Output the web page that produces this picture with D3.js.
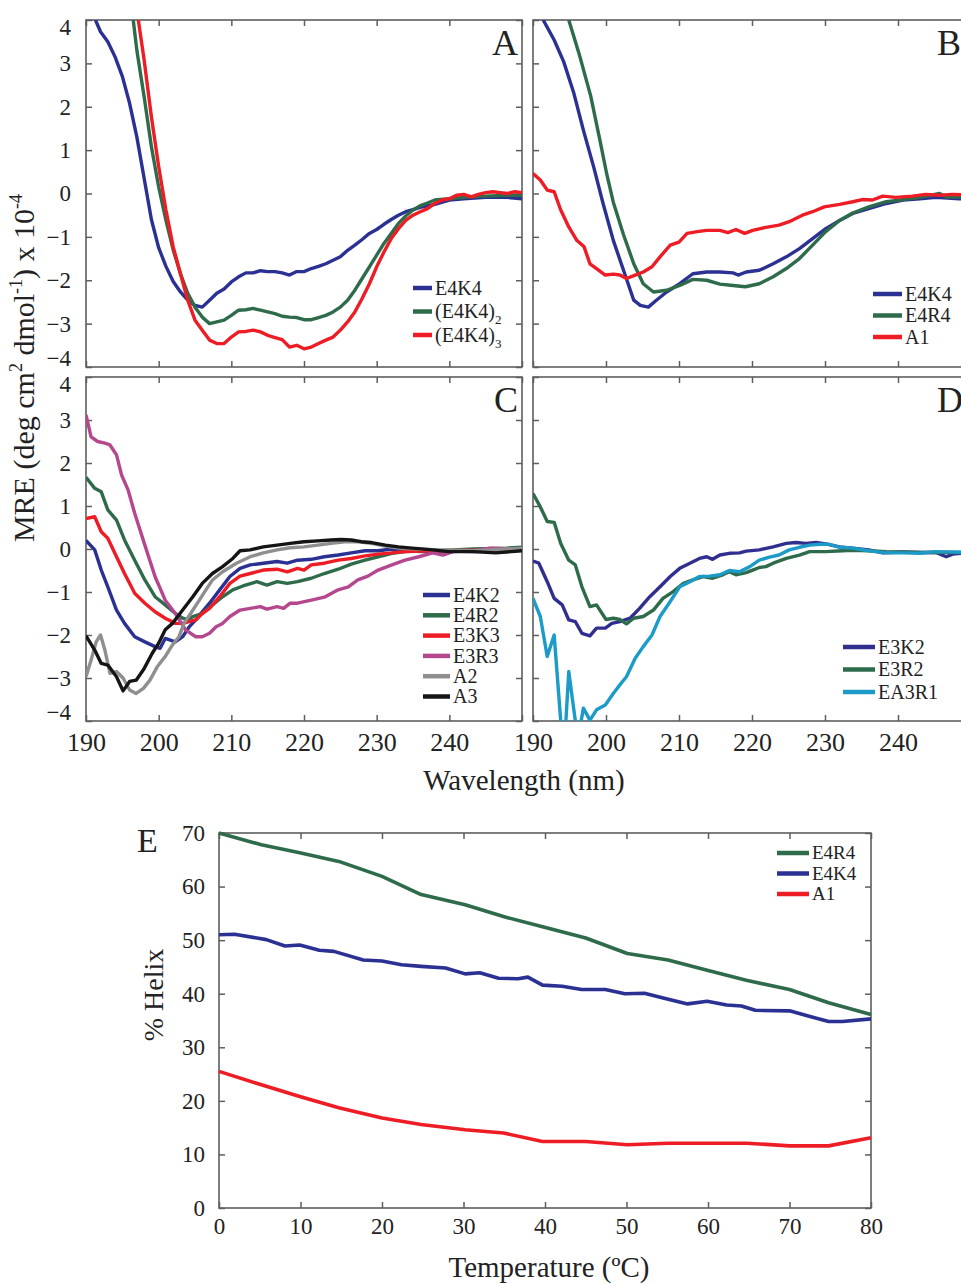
<!DOCTYPE html>
<html>
<head>
<meta charset="utf-8">
<script src="https://cdn.jsdelivr.net/npm/d3@7"></script>
<style>
  body { margin: 0; background: #fff; }
  svg { display: block; }
</style>
</head>
<body>
<div id="chart"></div>
<script>
// ---- tick values
const nmTicks = [190, 200, 210, 220, 230, 240, 250];
const mreTicks = [-4, -3, -2, -1, 0, 1, 2, 3, 4];
const tempTicks = [0, 10, 20, 30, 40, 50, 60, 70, 80];
const helixTicks = [0, 10, 20, 30, 40, 50, 60, 70];

// ---- panel A  [wavelength nm, MRE x 10^-4]
const aE4K4 = [[191.3,4.0],[192,3.73],[193,3.5],[194,3.15],[195,2.7],[196,2.08],[197,1.3],[198,0.35],[199,-0.6],[200,-1.25],[201,-1.68],[202,-2.03],[203,-2.27],[204,-2.46],[205,-2.58],[206,-2.62],[207,-2.46],[208,-2.3],[209,-2.2],[210,-2.04],[211,-1.92],[212,-1.83],[213,-1.83],[214,-1.78],[215,-1.8],[216,-1.8],[217,-1.83],[218,-1.88],[219,-1.8],[220,-1.8],[221,-1.73],[222,-1.68],[223,-1.62],[224,-1.54],[225,-1.46],[226,-1.31],[227,-1.19],[228,-1.06],[229,-0.92],[230,-0.83],[231,-0.71],[232,-0.6],[233,-0.5],[234,-0.42],[235,-0.37],[236,-0.32],[238,-0.25],[240,-0.15],[242,-0.12],[245,-0.09],[248,-0.09],[250,-0.12]];
const aE4K4x2 = [[196.5,4.0],[197,3.3],[198,2.23],[199,1.08],[200,0.15],[201,-0.62],[202,-1.3],[203,-1.85],[204,-2.3],[205,-2.62],[206,-2.85],[207,-3.0],[208,-2.96],[209,-2.92],[210,-2.81],[211,-2.69],[212,-2.68],[213,-2.65],[214,-2.69],[215,-2.73],[216,-2.77],[217,-2.83],[218,-2.85],[219,-2.86],[220,-2.91],[221,-2.91],[222,-2.86],[223,-2.81],[224,-2.73],[225,-2.62],[226,-2.46],[227,-2.23],[228,-1.96],[229,-1.69],[230,-1.42],[231,-1.15],[232,-0.92],[233,-0.69],[234,-0.52],[235,-0.38],[236,-0.28],[237,-0.22],[238,-0.15],[240,-0.12],[242,-0.09],[245,-0.06],[248,-0.04],[250,-0.04]];
const aE4K4x3 = [[197.2,4.0],[198,3.08],[199,1.77],[200,0.62],[201,-0.38],[202,-1.23],[203,-1.85],[204,-2.46],[205,-2.92],[206,-3.15],[207,-3.38],[208,-3.46],[209,-3.46],[210,-3.31],[211,-3.19],[212,-3.18],[213,-3.15],[214,-3.19],[215,-3.27],[216,-3.32],[217,-3.37],[218,-3.54],[219,-3.5],[220,-3.58],[221,-3.54],[222,-3.46],[223,-3.38],[224,-3.31],[225,-3.15],[226,-2.96],[227,-2.73],[228,-2.42],[229,-2.08],[230,-1.69],[231,-1.35],[232,-1.04],[233,-0.81],[234,-0.62],[235,-0.5],[236,-0.42],[237,-0.35],[238,-0.23],[239,-0.15],[240,-0.12],[241,-0.04],[242,-0.02],[243,-0.08],[244,-0.02],[245,0.02],[246,0.04],[247,0.02],[248,0],[249,0.04],[250,0.02]];

// ---- panel B
const bE4K4 = [[191.4,4.0],[192.9,3.54],[194.2,3.04],[195.6,2.31],[196.9,1.46],[198.3,0.62],[199.6,-0.23],[201,-1.08],[202.4,-1.77],[203.8,-2.46],[204.7,-2.58],[205.8,-2.62],[206.9,-2.46],[208.3,-2.27],[210.1,-2.08],[211.9,-1.85],[213.8,-1.81],[215.6,-1.81],[217.4,-1.83],[218.1,-1.88],[219.2,-1.81],[221,-1.77],[222.9,-1.62],[224.7,-1.46],[226.5,-1.27],[228.3,-1.04],[230.1,-0.81],[232,-0.62],[233.8,-0.46],[236,-0.35],[238.4,-0.23],[240.7,-0.15],[243,-0.12],[245.2,-0.09],[248.4,-0.12],[250,-0.12]];
const bE4R4 = [[194.9,4.0],[196.3,3.23],[197.9,2.25],[199.2,1.2],[200.1,0.45],[201,-0.2],[202.4,-0.95],[203.8,-1.62],[205.1,-2.08],[206.5,-2.27],[208.3,-2.23],[210.1,-2.12],[211.9,-1.98],[213.8,-2.0],[215.6,-2.09],[217.4,-2.12],[219.1,-2.15],[221,-2.08],[222.9,-1.92],[224.7,-1.73],[226.5,-1.5],[228.3,-1.19],[230.1,-0.88],[232,-0.62],[233.8,-0.45],[236,-0.31],[238.4,-0.19],[240.7,-0.14],[243,-0.09],[245.7,0],[246.6,-0.08],[250,-0.08]];
const bA1 = [[190,0.46],[191,0.31],[191.95,0.08],[192.9,0.04],[193.8,-0.38],[194.9,-0.77],[196,-1.08],[197,-1.23],[197.8,-1.62],[198.7,-1.73],[199.9,-1.88],[201,-1.86],[201.9,-1.88],[202.8,-1.96],[204,-1.88],[205.1,-1.81],[206.3,-1.69],[207.4,-1.46],[208.8,-1.19],[210,-1.12],[211.1,-0.92],[212.5,-0.88],[213.8,-0.85],[215.6,-0.85],[216.7,-0.9],[217.8,-0.83],[219,-0.92],[220.1,-0.85],[221.9,-0.78],[223.7,-0.73],[225.1,-0.65],[226.9,-0.5],[228.3,-0.42],[229.9,-0.31],[232,-0.25],[233.8,-0.19],[235.1,-0.14],[236.5,-0.15],[237.9,-0.06],[239.7,-0.09],[242,-0.06],[243.8,-0.02],[245.7,-0.04],[247.5,-0.02],[250,-0.04]];

// ---- panel C
const cE4K2 = [[190,0.2],[191.2,-0.02],[192.1,-0.49],[193,-0.88],[194.2,-1.42],[195.3,-1.73],[196.7,-2.04],[198.1,-2.16],[199.5,-2.27],[200.2,-2.31],[200.9,-2.08],[201.6,-2.12],[202.3,-2.16],[203.3,-2.04],[204.2,-1.81],[205.1,-1.65],[206,-1.46],[207,-1.26],[208.4,-0.95],[209.8,-0.64],[211.2,-0.45],[212.6,-0.37],[214.4,-0.33],[216.3,-0.29],[217.7,-0.33],[219.1,-0.26],[221,-0.24],[222.8,-0.18],[224.7,-0.14],[226.5,-0.09],[228.4,-0.04],[230.2,-0.04],[232.1,0],[233.9,-0.04],[236.3,-0.06],[238.6,-0.04],[243.3,-0.06],[247.9,-0.04],[250,-0.02]];
const cE4R2 = [[190,1.67],[191.2,1.41],[192.1,1.33],[193,0.91],[194.2,0.67],[195.3,0.21],[196.7,-0.26],[198.1,-0.72],[199.5,-1.11],[200.9,-1.3],[202.3,-1.5],[203.3,-1.61],[204,-1.65],[204.7,-1.57],[206,-1.5],[207.4,-1.3],[208.8,-1.11],[210.2,-0.95],[211.6,-0.86],[213.5,-0.76],[214.9,-0.84],[216.3,-0.76],[217.7,-0.8],[219.1,-0.76],[221,-0.68],[222.8,-0.57],[224.7,-0.47],[226.5,-0.35],[228.4,-0.26],[230.2,-0.18],[232.1,-0.1],[233.9,-0.06],[236.3,-0.04],[238.6,-0.04],[243.3,0],[247.9,0.02],[250,0.04]];
const cE3K3 = [[190,0.71],[191.2,0.75],[192.1,0.4],[193,0.25],[194.2,-0.18],[195.3,-0.57],[196.7,-1.03],[198.1,-1.26],[199.5,-1.46],[200.9,-1.61],[202.3,-1.73],[203.3,-1.73],[204.2,-1.69],[205.1,-1.65],[206,-1.5],[207,-1.38],[208.4,-1.11],[209.8,-0.8],[211.2,-0.63],[212.6,-0.57],[214.4,-0.49],[216.3,-0.47],[217.7,-0.53],[219.1,-0.45],[220,-0.49],[221,-0.37],[222.8,-0.33],[224.7,-0.26],[226.5,-0.22],[228.4,-0.16],[230.2,-0.12],[232.1,-0.09],[233.9,-0.06],[236.3,-0.05],[238.6,-0.04],[243.3,-0.03],[250,-0.03]];
const cE3R3 = [[190,3.12],[190.7,2.61],[191.6,2.5],[192.6,2.46],[193.3,2.42],[194.2,2.19],[194.9,1.72],[195.8,1.37],[196.7,0.83],[198.1,0.09],[199.5,-0.64],[200.9,-1.19],[202.3,-1.5],[203.7,-1.88],[205.1,-2.04],[206,-2.04],[207,-1.96],[207.9,-1.81],[208.8,-1.73],[209.8,-1.57],[211.2,-1.42],[212.6,-1.38],[214,-1.34],[214.9,-1.4],[216.3,-1.34],[217.2,-1.38],[218.1,-1.26],[219.1,-1.26],[221,-1.19],[222.8,-1.12],[224.7,-0.95],[226.1,-0.88],[227.4,-0.72],[228.8,-0.63],[230.2,-0.49],[232.1,-0.37],[233.9,-0.26],[235.8,-0.18],[237.7,-0.09],[239.1,-0.14],[240.5,-0.06],[243.3,-0.04],[245.6,0.02],[250,0.0]];
const cA2 = [[190,-2.97],[190.7,-2.58],[191.4,-2.16],[192,-2.0],[192.6,-2.35],[193.3,-2.89],[194.2,-2.85],[195.1,-3.0],[196,-3.28],[196.9,-3.36],[197.9,-3.24],[198.8,-3.05],[199.8,-2.74],[200.9,-2.5],[201.9,-2.23],[202.8,-2.04],[203.5,-1.73],[204.4,-1.5],[205.6,-1.19],[206.5,-0.95],[207.4,-0.72],[208.8,-0.53],[210.7,-0.33],[212.6,-0.18],[214.4,-0.09],[216.3,-0.02],[218.1,0.03],[220,0.05],[221.9,0.09],[223.7,0.13],[225.6,0.17],[227.4,0.17],[229.3,0.13],[231.2,0.07],[233,0.02],[235.3,0.0],[238.6,-0.02],[243.3,-0.04],[250,0.02]];
const cA3 = [[190,-2.02],[191.2,-2.35],[192.1,-2.66],[193,-2.7],[194.2,-2.97],[195.1,-3.3],[196,-3.08],[196.9,-3.05],[197.9,-2.81],[199.1,-2.43],[200,-2.19],[200.9,-1.88],[201.9,-1.73],[203.3,-1.42],[204.7,-1.11],[206,-0.8],[207.4,-0.57],[208.8,-0.41],[210.2,-0.22],[211.2,-0.04],[212.6,-0.02],[214.4,0.05],[216.3,0.09],[218.1,0.13],[220,0.17],[221.9,0.19],[223.7,0.21],[225.1,0.22],[226.5,0.21],[227.9,0.17],[229.3,0.15],[231.2,0.09],[233,0.05],[234.9,0.02],[237.7,-0.02],[240,-0.06],[243.3,-0.06],[246.4,-0.09],[250,-0.04]];

// ---- panel D
const dE3K2 = [[190,-0.28],[190.8,-0.33],[191.95,-0.76],[192.9,-1.15],[194,-1.3],[194.9,-1.65],[195.8,-1.69],[196.7,-1.96],[197.8,-2.02],[198.7,-1.84],[199.9,-1.84],[200.8,-1.73],[201.9,-1.69],[203.3,-1.61],[204.6,-1.38],[206,-1.11],[207.4,-0.88],[208.8,-0.64],[210.1,-0.45],[211.5,-0.33],[212.8,-0.22],[213.8,-0.18],[214.6,-0.24],[215.6,-0.14],[216.9,-0.1],[218.3,-0.09],[219.2,-0.05],[221,-0.02],[222.9,0.05],[224.7,0.13],[226,0.15],[227.4,0.13],[228.8,0.15],[230.1,0.12],[232,0.05],[233.8,0.02],[236,-0.02],[237.9,-0.09],[240.6,-0.07],[243,-0.08],[245.2,-0.08],[246.6,-0.18],[247.5,-0.12],[250,-0.08]];
const dE3R2 = [[190,1.29],[191,0.98],[191.95,0.64],[192.9,0.62],[193.8,0.13],[194.9,-0.26],[195.8,-0.37],[196.7,-0.88],[197.8,-1.34],[198.7,-1.3],[200,-1.64],[201,-1.61],[201.9,-1.64],[202.8,-1.74],[203.8,-1.61],[205.1,-1.57],[206.5,-1.42],[207.8,-1.15],[209.2,-0.99],[210.6,-0.8],[211.9,-0.72],[213.3,-0.64],[214.6,-0.68],[216,-0.6],[216.9,-0.53],[217.8,-0.6],[219.2,-0.55],[220.1,-0.49],[221,-0.43],[221.9,-0.41],[222.9,-0.33],[224.7,-0.22],[226.5,-0.14],[227.9,-0.06],[230.1,-0.06],[232.4,-0.04],[233.8,-0.03],[236,-0.04],[238.4,-0.06],[243,-0.08],[250,-0.08]];
const dEA3R1 = [[190,-1.15],[191,-1.57],[191.95,-2.5],[192.9,-2.0],[193.8,-4.0],[194.3,-4.6],[194.9,-2.85],[195.8,-4.0],[196.3,-4.3],[196.9,-3.7],[197.8,-3.98],[198.7,-3.74],[199.9,-3.63],[201,-3.36],[201.9,-3.16],[202.8,-2.97],[204,-2.54],[205.1,-2.27],[206.3,-2.0],[207.4,-1.57],[208.8,-1.22],[210.1,-0.88],[211.5,-0.76],[212.8,-0.64],[214.2,-0.63],[215.6,-0.6],[216.9,-0.5],[218.3,-0.53],[219.7,-0.41],[221,-0.26],[222.4,-0.19],[223.7,-0.14],[225.1,-0.02],[226.5,0.04],[227.9,0.09],[229.3,0.11],[230.6,0.11],[232,0.04],[233.8,0.02],[236,-0.04],[238.4,-0.09],[240.6,-0.09],[243,-0.1],[245.2,-0.06],[250,-0.08]];

// ---- panel E  [temperature C, % helix]
const eE4R4 = [[0,70],[5.2,67.8],[9.9,66.3],[14.7,64.7],[20,61.9],[24.8,58.5],[30.2,56.6],[34.9,54.4],[39.7,52.5],[45,50.4],[50.1,47.5],[55.1,46.3],[59.9,44.4],[64.7,42.5],[70,40.8],[74.8,38.3],[80,36.1]];
const eE4K4 = [[0,51.0],[1.9,51.1],[5.8,50.1],[8.1,48.9],[9.9,49.1],[12.3,48.1],[14.1,47.9],[17.7,46.3],[20,46.1],[22.4,45.4],[24.8,45.1],[27.8,44.8],[30.2,43.7],[32,43.9],[34.3,42.9],[36.7,42.8],[37.9,43.1],[39.7,41.6],[42.1,41.4],[44.5,40.8],[47.4,40.8],[49.8,40.0],[52.2,40.1],[54.5,39.2],[57.5,38.1],[59.9,38.6],[62.3,37.9],[64.1,37.7],[65.8,36.9],[70,36.8],[72.4,35.8],[74.8,34.8],[76.5,34.8],[80,35.3]];
const eA1 = [[0,25.5],[4.6,23.3],[9.9,20.8],[14.7,18.7],[20,16.8],[24.8,15.6],[30.2,14.6],[34.9,14.0],[39.7,12.4],[45,12.4],[50.1,11.8],[55.1,12.1],[59.9,12.1],[64.7,12.1],[70,11.6],[74.8,11.6],[80,13.1]];

const colors = {
  blue: '#2b3192', green: '#2e6b4b', red: '#ee1d25', magenta: '#b5478f',
  gray: '#8f8f8f', black: '#151515', cyan: '#1c9bc8', indigo: '#302e8e'
};

const width = 961;
const height = 1284;
const frameColor = '#5e5e5e';
const ink = '#222';
const serif = '"Liberation Serif", "Times New Roman", Times, serif';

const svg = d3.select('#chart').append('svg')
  .attr('width', width).attr('height', height)
  .style('overflow', 'hidden');

const panels = [
  { id: 'A', left: 86, right: 522, top: 20, bottom: 367, yLabels: true, xLabels: false,
    letterX: 518, letterAnchor: 'end',
    legend: { x: 413, y: 288, len: 19, step: 23.5, size: 20 },
    series: [['E4K4', aE4K4, colors.blue], ['(E4K4)|2', aE4K4x2, colors.green], ['(E4K4)|3', aE4K4x3, colors.red]] },
  { id: 'B', left: 533, right: 971, top: 20, bottom: 367, yLabels: false, xLabels: false,
    letterX: 937, letterAnchor: 'start',
    legend: { x: 873, y: 294, len: 29, step: 21.5, size: 20 },
    series: [['E4K4', bE4K4, colors.blue], ['E4R4', bE4R4, colors.green], ['A1', bA1, colors.red]] },
  { id: 'C', left: 86, right: 522, top: 377, bottom: 721, yLabels: true, xLabels: true,
    letterX: 518, letterAnchor: 'end',
    legend: { x: 423, y: 595, len: 27, step: 20.3, size: 20 },
    series: [['E4K2', cE4K2, colors.blue], ['E4R2', cE4R2, colors.green], ['E3K3', cE3K3, colors.red],
             ['E3R3', cE3R3, colors.magenta], ['A2', cA2, colors.gray], ['A3', cA3, colors.black]] },
  { id: 'D', left: 533, right: 971, top: 377, bottom: 721, yLabels: false, xLabels: true,
    letterX: 937, letterAnchor: 'start',
    legend: { x: 843, y: 647, len: 32, step: 22.5, size: 20 },
    series: [['E3K2', dE3K2, colors.indigo], ['E3R2', dE3R2, colors.green], ['EA3R1', dEA3R1, colors.cyan]] }
];

function styleAxis(s, fontSize) {
  s.attr('font-family', null).attr('font-size', null);
  s.select('.domain').remove();
  s.selectAll('.tick line').attr('stroke', frameColor).attr('stroke-width', 1.5);
  s.selectAll('.tick text').attr('fill', ink).style('font-size', fontSize + 'px');
}

function drawFrame(g, x, y, xt, yt, box, labelX, labelY, o) {
  const tick = 6;
  g.append('g').attr('transform', `translate(0,${box.bottom})`)
    .call(d3.axisBottom(x).tickValues(xt).tickSize(-tick).tickPadding(o.xPad).tickFormat(labelX ? d3.format('d') : ''))
    .call(styleAxis, o.xFont);
  g.append('g').attr('transform', `translate(0,${box.top})`)
    .call(d3.axisTop(x).tickValues(xt).tickSize(-tick).tickFormat(''))
    .call(styleAxis, o.xFont);
  g.append('g').attr('class', 'yaxis').attr('transform', `translate(${box.left},0)`)
    .call(d3.axisLeft(y).tickValues(yt).tickSize(-tick).tickPadding(o.yPad).tickFormat(labelY ? d3.format('d') : ''))
    .call(styleAxis, o.yFont);
  g.append('g').attr('transform', `translate(${box.right},0)`)
    .call(d3.axisRight(y).tickValues(yt).tickSize(-tick).tickFormat(''))
    .call(styleAxis, o.yFont);
  g.append('rect')
    .attr('x', box.left).attr('y', box.top)
    .attr('width', box.right - box.left).attr('height', box.bottom - box.top)
    .attr('fill', 'none').attr('stroke', frameColor).attr('stroke-width', 1.6);
}

function legendText(t, name, size) {
  const [base, sub] = name.split('|');
  t.append('tspan').text(base);
  if (sub) t.append('tspan').attr('dy', Math.round(size * 0.3)).style('font-size', Math.round(size * 0.65) + 'px').text(sub);
}

function drawLegend(g, lg, series) {
  series.forEach(([name, , color], i) => {
    const yy = lg.y + i * lg.step;
    g.append('line').attr('x1', lg.x).attr('x2', lg.x + lg.len).attr('y1', yy).attr('y2', yy)
      .attr('stroke', color).attr('stroke-width', 4.5);
    const t = g.append('text').attr('x', lg.x + lg.len + 3).attr('y', yy + lg.size * 0.34)
      .style('font-size', lg.size + 'px').attr('fill', ink);
    legendText(t, name, lg.size);
  });
}

panels.forEach(p => {
  const g = svg.append('g').attr('class', 'panel-' + p.id);
  const x = d3.scaleLinear().domain([190, 250]).range([p.left, p.right]);
  const y = d3.scaleLinear().domain([-4, 4]).range([p.bottom, p.top]);

  g.append('clipPath').attr('id', 'clip' + p.id).append('rect')
    .attr('x', p.left).attr('y', p.top).attr('width', p.right - p.left).attr('height', p.bottom - p.top);

  drawFrame(g, x, y, nmTicks, mreTicks, p, p.xLabels, p.yLabels, { xPad: 12, xFont: 26, yPad: 15, yFont: 23 });
  // the 250 label sits under the neighbouring panel's 190
  g.selectAll('.tick text').filter(d => d === 250).remove();
  // end labels are nudged inside the frame, as in the figure
  g.selectAll('.yaxis .tick text').attr('dy', d => d === 4 ? '0.62em' : d === -4 ? '-0.05em' : '0.32em');

  const line = d3.line().x(d => x(d[0])).y(d => y(d[1]));
  g.append('g').attr('clip-path', `url(#clip${p.id})`)
    .selectAll('path').data(p.series).join('path')
    .attr('d', d => line(d[1]))
    .attr('fill', 'none').attr('stroke', d => d[2])
    .attr('stroke-width', 3.4).attr('stroke-linejoin', 'round');

  drawLegend(g, p.legend, p.series);

  g.append('text').attr('x', p.letterX).attr('y', p.top + 35)
    .attr('text-anchor', p.letterAnchor)
    .style('font-size', '36px').attr('fill', ink).text(p.id);
});

// shared axis titles
const supSize = 18, supShift = 12;
const yTitle = svg.append('text')
  .attr('transform', 'translate(34,368) rotate(-90)')
  .attr('text-anchor', 'middle').style('font-size', '30px').attr('fill', ink);
yTitle.append('tspan').text('MRE (deg cm');
yTitle.append('tspan').attr('dy', -supShift).style('font-size', supSize + 'px').text('2');
yTitle.append('tspan').attr('dy', supShift).text(' dmol');
yTitle.append('tspan').attr('dy', -supShift).style('font-size', supSize + 'px').text('-1');
yTitle.append('tspan').attr('dy', supShift).text(') x 10');
yTitle.append('tspan').attr('dy', -supShift).style('font-size', supSize + 'px').text('-4');

svg.append('text').attr('x', 524).attr('y', 790).attr('text-anchor', 'middle')
  .style('font-size', '29px').attr('fill', ink).text('Wavelength (nm)');

// ---- panel E
const boxE = { left: 219, right: 871, top: 833, bottom: 1208 };
const gE = svg.append('g').attr('class', 'panel-E');
const xE = d3.scaleLinear().domain([0, 80]).range([boxE.left, boxE.right]);
const yE = d3.scaleLinear().domain([0, 70]).range([boxE.bottom, boxE.top]);

drawFrame(gE, xE, yE, tempTicks, helixTicks, boxE, true, true, { xPad: 10, xFont: 23, yPad: 14, yFont: 23 });

const seriesE = [['E4R4', eE4R4, colors.green], ['E4K4', eE4K4, colors.blue], ['A1', eA1, colors.red]];
const lineE = d3.line().x(d => xE(d[0])).y(d => yE(d[1]));
gE.append('g').selectAll('path').data(seriesE).join('path')
  .attr('d', d => lineE(d[1]))
  .attr('fill', 'none').attr('stroke', d => d[2])
  .attr('stroke-width', 3.6).attr('stroke-linejoin', 'round');

drawLegend(gE, { x: 777, y: 853, len: 32, step: 20.5, size: 19 }, seriesE);

gE.append('text').attr('x', 137).attr('y', 852).style('font-size', '34px').attr('fill', ink).text('E');

svg.append('text').attr('transform', 'translate(163,995) rotate(-90)')
  .attr('text-anchor', 'middle').style('font-size', '28px').attr('fill', ink).text('% Helix');
svg.append('text').attr('x', 549).attr('y', 1277).attr('text-anchor', 'middle')
  .style('font-size', '29px').attr('fill', ink).text('Temperature (ºC)');

// one serif face for every label
svg.selectAll('text').style('font-family', serif);
</script>
</body>
</html>
